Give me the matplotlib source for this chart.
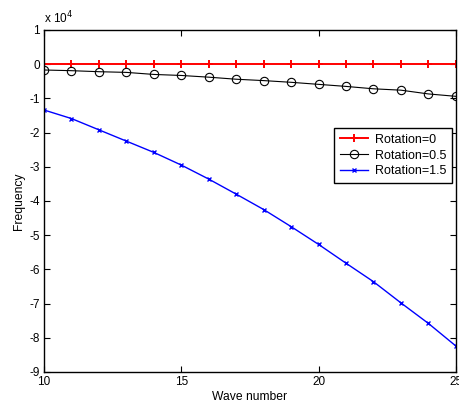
import numpy as np
import matplotlib.pyplot as plt

plt.rcParams['font.family'] = ['Liberation Sans', 'DejaVu Sans']
plt.rcParams['axes.unicode_minus'] = False

# wave numbers and frequencies (units of 1e4)
wave = np.arange(10, 26)
rot0 = [0.0] * 16
rot05 = [-0.17, -0.19, -0.22, -0.24, -0.30, -0.33, -0.38, -0.44,
         -0.48, -0.53, -0.59, -0.65, -0.72, -0.76, -0.87, -0.94]
rot15 = [-1.34, -1.59, -1.92, -2.25, -2.58, -2.95, -3.36, -3.80,
         -4.25, -4.75, -5.27, -5.82, -6.36, -6.98, -7.58, -8.24]

fig = plt.figure(figsize=(4.6, 4.09), dpi=100)
ax = fig.add_axes([0.0957, 0.0905, 0.8953, 0.8362])

ax.plot(wave, rot0, color='red', marker='+', markersize=6, mew=1.4, lw=1.4, label='Rotation=0')
ax.plot(wave, rot05, color='black', marker='o', markersize=6, mfc='none', mew=0.8, lw=0.8,
        label='Rotation=0.5')
ax.plot(wave, rot15, color='blue', marker='x', markersize=3.5, mew=1.0, lw=1.0, label='Rotation=1.5')

ax.set_xlim(10, 25)
ax.set_ylim(-9, 1)
ax.set_xticks([10, 15, 20, 25])
ax.set_yticks(range(-9, 2))
ax.tick_params(direction='in', top=True, right=True, labelsize=8.5, length=4, width=0.8, pad=3)
for s in ax.spines.values():
    s.set_linewidth(1.0)

ax.set_xlabel('Wave number', fontsize=8.7, labelpad=2)
ax.set_ylabel('Frequency', fontsize=8.7, labelpad=3)
ax.text(0.0, 1.012, 'x 10$^4$', transform=ax.transAxes, fontsize=8.5, ha='left', va='bottom')

ax.legend(loc='upper right', bbox_to_anchor=(0.99, 0.713), borderaxespad=0, fontsize=9,
          frameon=True, fancybox=False, edgecolor='black', handlelength=2.3, borderpad=0.45,
          labelspacing=0.3, handletextpad=0.5, framealpha=1)

fig.savefig('out.png', dpi=100)
